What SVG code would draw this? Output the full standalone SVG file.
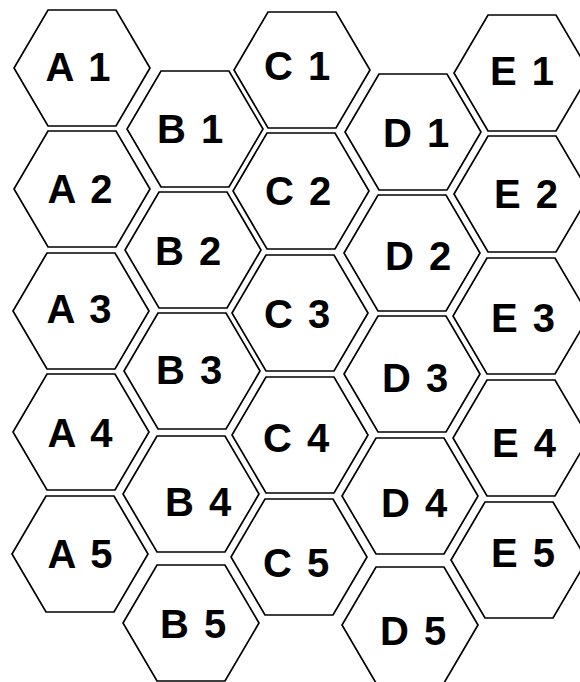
<svg xmlns="http://www.w3.org/2000/svg" xmlns:xlink="http://www.w3.org/1999/xlink" width="580" height="682" viewBox="0 0 580 682">
<style>
.hex{fill:#fff;stroke:#000;stroke-width:1.7;stroke-linejoin:miter}
.lbl{font-family:"Liberation Sans",Arial,sans-serif;font-weight:bold;font-size:40px;fill:#000;text-anchor:middle;word-spacing:4px}
</style>
<defs>
<polygon id="h" class="hex" points="-34,-58 34,-58 68,0 34,58 -34,58 -68,0"/>
</defs>
<rect width="580" height="682" fill="#fff"/>
<g id="connectors"></g>
<g id="A1"><use xlink:href="#h" x="82" y="68"/><text class="lbl" x="78" y="81">A 1</text></g>
<g id="A2"><use xlink:href="#h" x="82" y="189"/><text class="lbl" x="80" y="203">A 2</text></g>
<g id="A3"><use xlink:href="#h" x="81" y="311"/><text class="lbl" x="79" y="323">A 3</text></g>
<g id="A4"><use xlink:href="#h" x="81" y="432"/><text class="lbl" x="80" y="447">A 4</text></g>
<g id="A5"><use xlink:href="#h" x="80" y="554"/><text class="lbl" x="80" y="568">A 5</text></g>
<g id="B1"><use xlink:href="#h" x="195" y="129"/><text class="lbl" x="190" y="143">B 1</text></g>
<g id="B2"><use xlink:href="#h" x="193" y="250"/><text class="lbl" x="188" y="265">B 2</text></g>
<g id="B3"><use xlink:href="#h" x="192" y="371"/><text class="lbl" x="189" y="384">B 3</text></g>
<g id="B4"><use xlink:href="#h" x="191" y="494"/><text class="lbl" x="198" y="516">B 4</text></g>
<g id="B5"><use xlink:href="#h" x="191" y="623"/><text class="lbl" x="193" y="638">B 5</text></g>
<g id="C1"><use xlink:href="#h" x="302" y="70"/><text class="lbl" x="297" y="80">C 1</text></g>
<g id="C2"><use xlink:href="#h" x="301" y="191"/><text class="lbl" x="298" y="205">C 2</text></g>
<g id="C3"><use xlink:href="#h" x="300" y="313"/><text class="lbl" x="297" y="328">C 3</text></g>
<g id="C4"><use xlink:href="#h" x="300" y="435"/><text class="lbl" x="296" y="452">C 4</text></g>
<g id="C5"><use xlink:href="#h" x="299" y="557"/><text class="lbl" x="296" y="577">C 5</text></g>
<g id="D1"><use xlink:href="#h" x="413" y="132"/><text class="lbl" x="416" y="147">D 1</text></g>
<g id="D2"><use xlink:href="#h" x="412" y="253"/><text class="lbl" x="418" y="270">D 2</text></g>
<g id="D3"><use xlink:href="#h" x="412" y="374"/><text class="lbl" x="415" y="392">D 3</text></g>
<g id="D4"><use xlink:href="#h" x="410" y="496"/><text class="lbl" x="414" y="517">D 4</text></g>
<g id="D5"><use xlink:href="#h" x="410" y="625"/><text class="lbl" x="413" y="645">D 5</text></g>
<g id="E1"><use xlink:href="#h" x="522" y="73"/><text class="lbl" x="522" y="85">E 1</text></g>
<g id="E2"><use xlink:href="#h" x="522" y="194"/><text class="lbl" x="526" y="208">E 2</text></g>
<g id="E3"><use xlink:href="#h" x="521" y="316"/><text class="lbl" x="523" y="332">E 3</text></g>
<g id="E4"><use xlink:href="#h" x="521" y="438"/><text class="lbl" x="524" y="457">E 4</text></g>
<g id="E5"><use xlink:href="#h" x="519" y="560"/><text class="lbl" x="523" y="567">E 5</text></g>
</svg>
